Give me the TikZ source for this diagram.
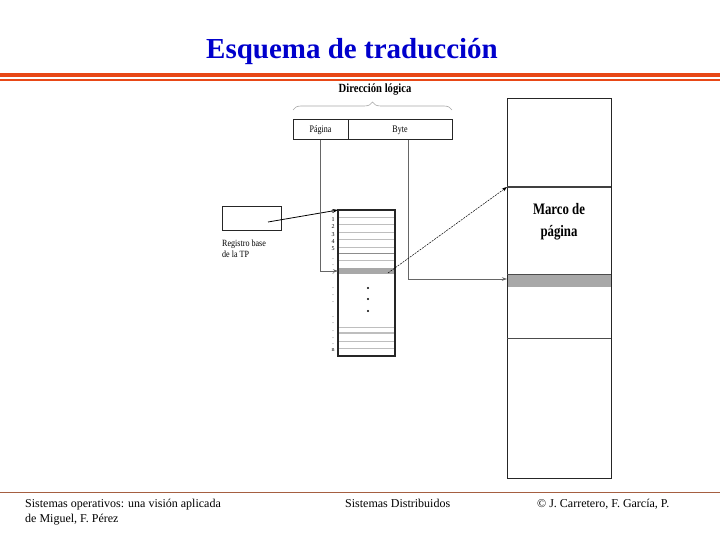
\documentclass[tikz,border=0pt]{standalone}
\usepackage{fontspec}
\setmainfont{Liberation Serif}
\usepackage{graphicx}
\usetikzlibrary{positioning,arrows.meta,decorations.pathreplacing}
\definecolor{titleblue}{RGB}{0,0,204}
\definecolor{barorange}{RGB}{232,72,22}
\definecolor{footbrown}{RGB}{165,95,65}
\definecolor{bandgray}{RGB}{168,168,168}
\definecolor{rulegray}{RGB}{190,190,190}
\newcommand{\narrow}[2][0.8]{\scalebox{#1}[1]{#2}}

\begin{document}
\begin{tikzpicture}[x=1pt,y=-1pt,>={Stealth[length=5pt,width=3.5pt]},
  box/.style={draw=black!85,line width=1pt,inner sep=0pt,outer sep=0pt,anchor=north west},
  link/.style={draw=black!60,line width=0.6pt},
  tag/.style={inner sep=0pt,font=\fontsize{9.5}{10.5}\selectfont,align=left},
  idx/.style={inner sep=0pt,font=\fontsize{6}{6}\selectfont},
  foot/.style={inner sep=0pt,font=\fontsize{12}{15}\selectfont,align=left,anchor=north west}]

\useasboundingbox (0,0) rectangle (720,540);

% cabecera
\node[text=titleblue,font=\fontsize{29}{34}\selectfont\bfseries,anchor=base] (title) at (352,59) {Esquema de traducción};
\fill[barorange] (0,73) rectangle (720,77.5);
\fill[barorange] (0,79.5) rectangle (720,81.5);

% direccion logica
\node[inner sep=0pt,font=\fontsize{12.5}{12.5}\selectfont\bfseries] (dirlog) at (375,90) {\narrow[0.85]{Dirección lógica}};
\draw[black!35,line width=0.6pt,decorate,decoration={brace,amplitude=8pt}] (293,110) -- (452,110);
\node[box,minimum width=55pt,minimum height=20pt] (pag) at (293,120) {\fontsize{10}{10}\selectfont\narrow{Página}};
\node[box,minimum width=104pt,minimum height=20pt,right=0pt of pag] (byte) {\fontsize{10}{10}\selectfont\narrow{Byte}};

% registro base
\node[box,minimum width=59pt,minimum height=24pt] (reg) at (222,207) {};
\node[tag,anchor=north west] (reglab) at (222,240) {\narrow[0.85]{Registro base}\\\narrow[0.85]{de la TP}};

% tabla de paginas
\node[box,line width=1.4pt,minimum width=57pt,minimum height=146pt] (tp) at (338,210) {};
\foreach \y in {217,224,232,239,247,260,327,341,348}
  \draw[rulegray,line width=0.6pt] (339,\y) -- (394,\y);
\draw[black!45,line width=0.8pt] (339,253) -- (394,253);
\draw[rulegray,line width=1.6pt] (339,333) -- (394,333);
\fill[bandgray] (339,268) rectangle (394,274);
\foreach \i in {0,...,5}
  \node[idx] at (333,212+7.4*\i) {\i};
\foreach \y in {259,265,274,288,295,302,317,323,331,338,344}
  \node[idx] at (333,\y) {.};
\node[idx] at (333,350) {n};
\foreach \y in {288,299,311}
  \fill (368,\y) circle (1.1);

% memoria
\node[box,line width=1pt,minimum width=104pt,minimum height=379pt] (mem) at (507,99) {};
\draw[black!75,line width=1.2pt] (507,187) -- (611,187);
\fill[bandgray] (507.5,274) rectangle (610.5,287);
\draw[black!70,line width=0.6pt] (507,274) -- (611,274);
\draw[black!70,line width=0.5pt] (507,338) -- (611,338);
\node[inner sep=0pt,font=\fontsize{16}{22}\selectfont\bfseries,align=center] (marco) at (559,222) {\narrow{Marco de}\\\narrow{página}};

% conexiones
\coordinate (regtap) at (268,222);
\coordinate (tprow) at (338,271);
\coordinate (rowout) at (388,273);
\coordinate (frametop) at (507,187);
\coordinate (framein) at (507,279);
\draw[->,line width=0.8pt] (regtap) -- (tp.north west);
\draw[->,link] (pag.south) |- (tprow);
\draw[->,link] ([xshift=8pt]byte.south) |- (framein);
\draw[->,line width=0.5pt,dash pattern=on 2pt off 1pt] (rowout) -- (frametop);

% pie
\draw[footbrown,line width=1pt] (0,492) -- (720,492);
\node[foot] (footl) at (25,499) {Sistemas operativos: una visión aplicada\\de Miguel, F. Pérez};
\node[foot] (footc) at (345,499) {Sistemas Distribuidos};
\node[foot] (footr) at (537,499) {© J. Carretero, F. García, P.};
\end{tikzpicture}
\end{document}
